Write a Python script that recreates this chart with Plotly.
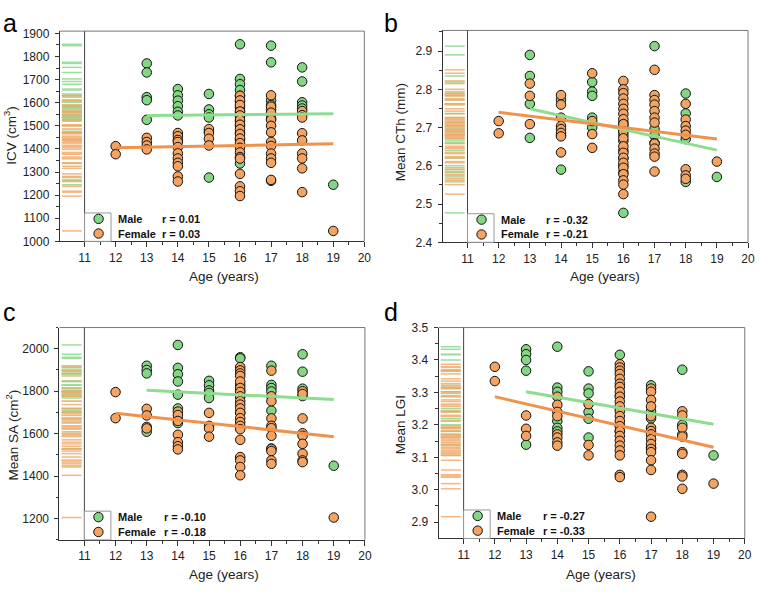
import plotly.graph_objects as go

# ---------------- data ----------------
icv_male = {13: [1770, 1731, 1624, 1611, 1526],
            14: [1659, 1632, 1609, 1585, 1561, 1545],
            15: [1638, 1571, 1550, 1536, 1476, 1276],
            16: [1853, 1703, 1680, 1655, 1630, 1605, 1580, 1560, 1540, 1520, 1500, 1470, 1440, 1337],
            17: [1847, 1775, 1610, 1590, 1570, 1550, 1530, 1262],
            18: [1753, 1692, 1602, 1588, 1575],
            19: [1245]}
icv_female = {12: [1412, 1377],
              13: [1448, 1430, 1415, 1398],
              14: [1469, 1455, 1439, 1430, 1408, 1381, 1359, 1340, 1325, 1281, 1259],
              15: [1486, 1469, 1444, 1415],
              16: [1630, 1610, 1590, 1562, 1545, 1525, 1505, 1485, 1465, 1445, 1425, 1405, 1385, 1365,
                   1358, 1292, 1238, 1217, 1196],
              17: [1632, 1583, 1557, 1526, 1500, 1472, 1430, 1413, 1380, 1359, 1340, 1266],
              18: [1564, 1546, 1536, 1468, 1437, 1380, 1359, 1316, 1213],
              19: [1045]}

cth_male = {13: [2.890, 2.835, 2.762, 2.673],
            14: [2.772, 2.680, 2.590],
            15: [2.819, 2.794, 2.783, 2.726, 2.700],
            16: [2.713, 2.705, 2.690, 2.680, 2.665, 2.640, 2.620, 2.600, 2.583, 2.477],
            17: [2.913, 2.696, 2.679, 2.660],
            18: [2.789, 2.737, 2.670, 2.558],
            19: [2.571]}
cth_female = {12: [2.717, 2.685],
              13: [2.815, 2.783, 2.709],
              14: [2.785, 2.760, 2.726, 2.704, 2.696, 2.686, 2.677, 2.635],
              15: [2.842, 2.717, 2.683, 2.647],
              16: [2.822, 2.800, 2.790, 2.776, 2.762, 2.749, 2.736, 2.722, 2.709, 2.690, 2.672, 2.651,
                   2.634, 2.621, 2.608, 2.595, 2.578, 2.562, 2.551, 2.526],
              17: [2.851, 2.785, 2.772, 2.760, 2.743, 2.726, 2.713, 2.658, 2.645, 2.632, 2.624, 2.585],
              18: [2.762, 2.721, 2.704, 2.692, 2.681, 2.591, 2.575, 2.566],
              19: [2.611]}

sa_male = {13: [1920, 1900, 1884, 1609],
           14: [2018, 1910, 1880, 1846, 1784, 1719, 1668, 1650],
           15: [1849, 1828, 1804, 1792, 1768],
           16: [1960, 1955, 1830, 1800, 1776, 1700],
           17: [1920, 1830, 1815, 1799, 1709, 1530],
           18: [1974, 1892, 1812, 1777],
           19: [1449]}
sa_female = {12: [1796, 1673],
             13: [1717, 1686, 1632, 1625],
             14: [1704, 1688, 1660, 1595, 1560, 1541, 1526],
             15: [1698, 1637, 1625, 1586],
             16: [1914, 1898, 1884, 1872, 1846, 1815, 1797, 1776, 1753, 1737, 1719, 1698, 1673, 1655,
                  1637, 1621, 1571, 1490, 1474, 1443, 1404],
             17: [1897, 1776, 1753, 1672, 1637, 1626, 1590, 1528, 1518, 1474, 1458],
             18: [1800, 1787, 1672, 1602, 1590, 1552, 1506, 1474, 1466],
             19: [1205]}

lgi_male = {13: [3.433, 3.418, 3.400, 3.367, 3.139],
            14: [3.441, 3.315, 3.302, 3.212, 3.191, 3.180],
            15: [3.365, 3.312, 3.297, 3.240, 3.219, 3.161],
            16: [3.416, 3.290, 3.250, 3.200, 3.180],
            17: [3.322, 3.242, 3.220, 3.130],
            18: [3.370, 3.200, 3.170],
            19: [3.106]}
lgi_female = {12: [3.379, 3.335],
              13: [3.229, 3.188, 3.166],
              14: [3.287, 3.262, 3.240, 3.227, 3.171, 3.161, 3.146, 3.136],
              15: [3.264, 3.138, 3.106],
              16: [3.387, 3.377, 3.367, 3.357, 3.342, 3.327, 3.317, 3.302, 3.287, 3.272, 3.257, 3.242,
                   3.227, 3.212, 3.196, 3.181, 3.166, 3.151, 3.136, 3.121, 3.106, 3.046, 3.039],
              17: [3.312, 3.302, 3.277, 3.257, 3.227, 3.191, 3.181, 3.171, 3.156, 3.141, 3.126, 3.116,
                   3.091, 3.061, 2.917],
              18: [3.242, 3.229, 3.191, 3.164, 3.116, 3.111, 3.046, 3.041, 3.003],
              19: [3.019]}

# fitted lines: (age range, values at ends)
fit_male_ages = [13, 19]
fit_female_ages = [12, 19]
icv_fit_male, icv_fit_female = [1545, 1552], [1405, 1422]
cth_fit_male, cth_fit_female = [2.749, 2.641], [2.740, 2.670]
sa_fit_male, sa_fit_female = [1805, 1761], [1696, 1586]
lgi_fit_male, lgi_fit_female = [3.302, 3.202], [3.287, 3.131]

r_values = {"a": ("0.01", "0.03"), "b": ("-0.32", "-0.21"),
            "c": ("-0.10", "-0.18"), "d": ("-0.27", "-0.33")}

x_ticks = list(range(11, 21))

# ---------------- style ----------------
FONT = "Arial, 'Liberation Sans', sans-serif"
GREEN = "#84D684"
ORANGE = "#F4A462"
GREEN_LINE = "#8EDC8E"
ORANGE_LINE = "#F0924C"
W, H = 760, 593

panels = [
    dict(letter="a", male=icv_male, female=icv_female, fm=icv_fit_male, ff=icv_fit_female,
         px=(60.3, 367.7), py=(24.7, 240.0), yrange=[1000, 1910],
         ytv=list(range(1000, 2000, 100)), ytt=[str(v) for v in range(1000, 2000, 100)],
         ymin=list(range(1050, 1950, 100)),
         ytitle="ICV (cm<sup>3</sup>)", ytitle_pos=(10, 131), xtitle_pos=(226, 276),
         letter_pos=(1, 16), rx=13.42),
    dict(letter="b", male=cth_male, female=cth_female, fm=cth_fit_male, ff=cth_fit_female,
         px=(446.7, 755.0), py=(24.0, 241.0), yrange=[2.4, 2.954],
         ytv=[2.4, 2.5, 2.6, 2.7, 2.8, 2.9], ytt=["2.4", "2.5", "2.6", "2.7", "2.8", "2.9"],
         ymin=[2.45, 2.55, 2.65, 2.75, 2.85, 2.95],
         ytitle="Mean CTh (mm)", ytitle_pos=(405, 128), xtitle_pos=(611, 276),
         letter_pos=(386, 16), rx=13.45),
    dict(letter="c", male=sa_male, female=sa_female, fm=sa_fit_male, ff=sa_fit_female,
         px=(60.0, 368.3), py=(328.3, 545.7), yrange=[1100, 2100],
         ytv=[1200, 1400, 1600, 1800, 2000], ytt=["1200", "1400", "1600", "1800", "2000"],
         ymin=[1100, 1300, 1500, 1700, 1900, 2100],
         ytitle="Mean SA (cm<sup>2</sup>)", ytitle_pos=(12, 438), xtitle_pos=(226, 581),
         letter_pos=(1, 312), rx=13.48),
    dict(letter="d", male=lgi_male, female=lgi_female, fm=lgi_fit_male, ff=lgi_fit_female,
         px=(442.7, 751.7), py=(328.3, 544.3), yrange=[2.85, 3.5],
         ytv=[2.9, 3.0, 3.1, 3.2, 3.3, 3.4, 3.5], ytt=["2.9", "3.0", "3.1", "3.2", "3.3", "3.4", "3.5"],
         ymin=[2.95, 3.05, 3.15, 3.25, 3.35, 3.45],
         ytitle="Mean LGI", ytitle_pos=(405, 428), xtitle_pos=(607, 581),
         letter_pos=(386, 312), rx=13.48),
]

fig = go.Figure()
shapes, annotations = [], []


def flatten(d):
    xs, ys = [], []
    for age, vals in d.items():
        for v in vals:
            xs.append(age)
            ys.append(v)
    return xs, ys


def rug(vals):
    xs, ys = [], []
    for v in vals:
        xs += [10.27, 10.91, None]
        ys += [v, v, None]
    return xs, ys


for i, p in enumerate(panels, start=1):
    xa = "x" if i == 1 else f"x{i}"
    ya = "y" if i == 1 else f"y{i}"
    xdom = [p["px"][0] / W, p["px"][1] / W]
    ydom = [1 - p["py"][1] / H, 1 - p["py"][0] / H]

    mx, my = flatten(p["male"])
    fx, fy = flatten(p["female"])

    # rugs
    rx_, ry_ = rug(my)
    fig.add_trace(go.Scatter(x=rx_, y=ry_, mode="lines", xaxis=xa, yaxis=ya,
                             line=dict(color=GREEN, width=1.5), opacity=0.8,
                             showlegend=False, hoverinfo="skip"))
    rx_, ry_ = rug(fy)
    fig.add_trace(go.Scatter(x=rx_, y=ry_, mode="lines", xaxis=xa, yaxis=ya,
                             line=dict(color=ORANGE, width=1.5), opacity=0.8,
                             showlegend=False, hoverinfo="skip"))
    # points
    fig.add_trace(go.Scatter(x=mx, y=my, mode="markers", xaxis=xa, yaxis=ya, name="Male",
                             marker=dict(size=9.5, color=GREEN, line=dict(color="#111", width=1)),
                             showlegend=False))
    fig.add_trace(go.Scatter(x=fx, y=fy, mode="markers", xaxis=xa, yaxis=ya, name="Female",
                             marker=dict(size=9.5, color=ORANGE, line=dict(color="#111", width=1)),
                             showlegend=False))
    # fit lines
    fig.add_trace(go.Scatter(x=fit_male_ages, y=p["fm"], mode="lines", xaxis=xa, yaxis=ya,
                             line=dict(color=GREEN_LINE, width=3), showlegend=False))
    fig.add_trace(go.Scatter(x=fit_female_ages, y=p["ff"], mode="lines", xaxis=xa, yaxis=ya,
                             line=dict(color=ORANGE_LINE, width=3), showlegend=False))

    xkey = "xaxis" if i == 1 else f"xaxis{i}"
    ykey = "yaxis" if i == 1 else f"yaxis{i}"
    fig.update_layout(**{
        xkey: dict(domain=xdom, anchor=ya, range=[10.2, 20], tickmode="array", tickvals=x_ticks,
                   ticktext=[str(t) for t in x_ticks],
                   ticks="outside", ticklen=5, tickcolor="#333", showline=True, linecolor="#333",
                   linewidth=1, showgrid=False, zeroline=False,
                   tickfont=dict(family=FONT, size=12, color="#222"),
                   minor=dict(tickvals=[t + 0.5 for t in x_ticks[:-1]], ticks="outside",
                              ticklen=3, tickcolor="#333")),
        ykey: dict(domain=ydom, anchor=xa, range=p["yrange"], tickmode="array", tickvals=p["ytv"],
                   ticktext=p["ytt"], ticks="outside", ticklen=4, tickcolor="#333", showline=True,
                   linecolor="#333", linewidth=1, showgrid=False, zeroline=False,
                   ticklabelstandoff=3,
                   tickfont=dict(family=FONT, size=12, color="#222"),
                   minor=dict(tickvals=p["ymin"], ticks="outside", ticklen=2.5, tickcolor="#333")),
    })

    xd = f"{xa} domain"
    yd = f"{ya} domain"
    # frame top / right
    shapes.append(dict(type="line", xref=xd, yref=yd, x0=0, x1=1, y0=1, y1=1,
                       line=dict(color="#777", width=1)))
    shapes.append(dict(type="line", xref=xd, yref=yd, x0=1, x1=1, y0=0, y1=1,
                       line=dict(color="#777", width=1)))
    # separator at age 11
    shapes.append(dict(type="line", xref=xa, yref=yd, x0=11, x1=11, y0=0, y1=1,
                       line=dict(color="#444", width=1)))
    # legend box
    shapes.append(dict(type="rect", xref=xa, yref=yd, x0=11, x1=11.85, y0=0, y1=0.135,
                       line=dict(color="#999", width=1), fillcolor="white"))
    for yy, col in [(0.107, GREEN), (0.037, ORANGE)]:
        shapes.append(dict(type="circle", xref=xa, yref=yd, xsizemode="pixel", ysizemode="pixel",
                           xanchor=11.45, yanchor=yy, x0=-4.7, x1=4.7, y0=-4.7, y1=4.7,
                           fillcolor=col, line=dict(color="#111", width=1)))
    rm, rf = r_values[p["letter"]]
    for yy, lab, rv in [(0.107, "Male", rm), (0.037, "Female", rf)]:
        annotations.append(dict(xref=xa, yref=yd, x=12.0, y=yy, xanchor="left", yanchor="middle",
                                text=f"<b>{lab}</b>", showarrow=False,
                                font=dict(family=FONT, size=11, color="#111")))
        annotations.append(dict(xref=xa, yref=yd, x=p["rx"], y=yy, xanchor="left", yanchor="middle",
                                text=f"<b>r = {rv}</b>", showarrow=False,
                                font=dict(family=FONT, size=11, color="#111")))
    # titles
    tx, ty = p["xtitle_pos"]
    annotations.append(dict(xref="paper", yref="paper", x=tx / W, y=1 - ty / H, xanchor="center",
                            yanchor="middle", text="Age (years)", showarrow=False,
                            font=dict(family=FONT, size=13.5, color="#222")))
    tx, ty = p["ytitle_pos"]
    annotations.append(dict(xref="paper", yref="paper", x=tx / W, y=1 - ty / H, xanchor="center",
                            yanchor="middle", text=p["ytitle"], textangle=-90, showarrow=False,
                            font=dict(family=FONT, size=13.5, color="#222")))
    lx, ly = p["letter_pos"]
    annotations.append(dict(xref="paper", yref="paper", x=lx / W, y=1 - ly / H, xanchor="left",
                            yanchor="middle", text=p["letter"], showarrow=False,
                            font=dict(family=FONT, size=25, color="#000")))

fig.update_layout(width=W, height=H, margin=dict(l=0, r=0, t=0, b=0),
                  paper_bgcolor="white", plot_bgcolor="white", showlegend=False,
                  shapes=shapes, annotations=annotations,
                  font=dict(family=FONT))

fig.write_html("out.html")
